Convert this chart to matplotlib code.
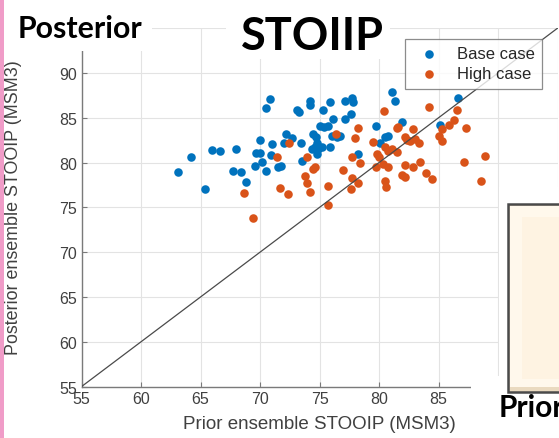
import matplotlib
matplotlib.use('Agg')
import matplotlib.pyplot as plt
from matplotlib.patches import Rectangle

# ---------------- data ----------------
base_prior = [63.13, 64.20, 65.42, 65.94, 66.68, 67.98, 67.77, 68.40, 68.84, 69.58,
              70.02, 69.66, 69.96, 70.21, 70.52, 70.90, 71.03, 70.48, 70.84, 71.54,
              72.16, 72.02, 72.73, 73.15, 73.28, 73.45, 73.50, 74.20, 74.16, 75.32,
              75.88, 77.14, 77.71, 77.84, 77.14, 77.65, 76.16, 81.07, 81.37, 79.75,
              75.04, 75.38, 75.74, 76.03, 76.45, 76.72, 74.48, 74.71, 74.76, 74.62,
              74.34, 74.90, 75.18, 74.76, 75.88, 71.76, 78.26, 80.50, 80.78, 80.08,
              81.96, 86.61, 85.13]
base_post = [78.90, 80.68, 77.09, 81.46, 81.26, 81.52, 79.06, 78.92, 77.80, 79.62,
             82.52, 81.10, 81.10, 80.03, 79.06, 80.85, 82.08, 86.09, 87.10, 79.56,
             83.19, 82.19, 82.80, 85.90, 85.61, 82.15, 80.18, 86.91, 86.48, 85.87,
             86.73, 86.91, 87.21, 86.73, 84.87, 85.37, 84.87, 87.85, 86.82, 84.12,
             84.12, 84.01, 84.12, 82.94, 82.89, 82.94, 83.19, 82.82, 82.15, 81.71,
             81.52, 81.52, 81.77, 80.96, 81.71, 79.62, 80.96, 82.82, 83.00, 82.15,
             84.50, 87.21, 84.23]

high_prior = [68.68, 69.44, 71.43, 72.46, 71.72, 72.39, 73.78, 73.92, 73.97, 74.23,
              80.45, 78.26, 77.98, 76.39, 74.62, 74.48, 75.74, 75.74, 76.95, 77.71,
              78.40, 77.71, 78.26, 77.62, 79.52, 79.86, 80.03, 79.77, 80.50, 80.78,
              81.07, 80.36, 80.78, 80.50, 80.59, 81.62, 82.18, 82.18, 81.91, 82.18,
              84.23, 86.53, 81.54, 82.83, 82.33, 82.61, 83.03, 83.39, 85.27, 85.91,
              86.30, 85.07, 85.27, 87.29, 81.49, 82.88, 83.45, 83.92, 84.43, 87.14,
              88.91, 88.57]
high_post = [76.58, 73.82, 80.66, 82.15, 77.22, 76.50, 78.50, 77.69, 80.66, 76.69,
             85.81, 83.81, 82.80, 83.19, 79.47, 79.23, 77.42, 75.32, 79.17, 80.59,
             79.99, 78.25, 77.69, 77.05, 82.27, 80.96, 80.59, 79.51, 81.71, 81.33,
             81.52, 79.84, 79.48, 77.98, 77.31, 84.01, 82.82, 79.73, 78.65, 78.36,
             86.17, 85.87, 83.86, 83.75, 82.57, 82.44, 82.63, 82.15, 83.75, 84.23,
             84.75, 83.00, 82.44, 83.83, 81.15, 79.47, 80.03, 78.81, 78.17, 80.03,
             80.77, 77.98]

ref_line = [55, 95]
ticks = [55, 60, 65, 70, 75, 80, 85, 90, 95]
xtick_labels = ['55', '60', '65', '70', '75', '80', '85', '', '']
ytick_labels = ['55', '60', '65', '70', '75', '80', '85', '90', '']
series_labels = ['Base case', 'High case']

# ---------------- figure ----------------
W, H = 559, 439
fig = plt.figure(figsize=(W / 100, H / 100), dpi=100)
fig.patch.set_facecolor('white')


def box(x0, y0, x1, y1):
    """pixel box (top-left origin) -> figure fraction rect"""
    return (x0 / W, 1 - y1 / H), (x1 - x0) / W, (y1 - y0) / H


ax_left, ax_right, ax_top, ax_bot = 81.5, 557.5, 29.2, 387.6
ax = fig.add_axes([ax_left / W, 1 - ax_bot / H, (ax_right - ax_left) / W, (ax_bot - ax_top) / H])

ax.set_xlim(55, 95)
ax.set_ylim(55, 95)
ax.set_xticks(ticks)
ax.set_yticks(ticks)
ax.set_xticklabels(xtick_labels)
ax.set_yticklabels(ytick_labels)
ax.grid(True, color='#e3e3e3', lw=0.8)
ax.set_axisbelow(True)

ax.scatter(base_prior, base_post, s=38, color='#0072BD', label=series_labels[0], zorder=2, linewidths=0)
ax.scatter(high_prior, high_post, s=38, color='#D95319', label=series_labels[1], zorder=2.1, linewidths=0)
ax.plot(ref_line, ref_line, color='#4a4a4a', lw=0.9, zorder=3)

for s in ['top', 'right']:
    ax.spines[s].set_visible(False)
for s in ['left', 'bottom']:
    ax.spines[s].set_color('#7a7a7a')
    ax.spines[s].set_linewidth(1.0)

ax.tick_params(direction='in', length=3.5, width=0.8, color='#7a7a7a',
               labelsize=11.5, labelcolor='#404040', pad=3.5)
for lab in ax.get_xticklabels() + ax.get_yticklabels():
    lab.set_fontfamily('Liberation Sans')

leg = ax.legend(loc='upper right', bbox_to_anchor=(0.9675, 0.970), borderaxespad=0,
                prop={'family': 'Liberation Sans', 'size': 12}, frameon=True, fancybox=False,
                handlelength=2.0, handletextpad=0.65, borderpad=0.45, labelspacing=0.3,
                scatterpoints=1)
leg.get_frame().set_edgecolor('#707070')
leg.get_frame().set_linewidth(0.9)
leg.set_zorder(5)
for t in leg.get_texts():
    t.set_color('#262626')

# axis labels
fig.text(319 / W, 1 - 425 / H, 'Prior ensemble STOOIP (MSM3)', ha='center', va='center',
         fontsize=13.5, family='Liberation Sans', color='#404040')
fig.text(14 / W, 1 - 208 / H, 'Posterior ensemble STOOIP (MSM3)', ha='center', va='center',
         rotation=90, fontsize=12.9, family='Liberation Sans', color='#404040')

# slide overlays
def add_rect(x0, y0, x1, y1, **kw):
    xy, w, h = box(x0, y0, x1, y1)
    r = Rectangle(xy, w, h, transform=fig.transFigure, **kw)
    fig.add_artist(r)
    return r

add_rect(4, 0, 152, 52, facecolor='white', edgecolor='none', zorder=10)
add_rect(226, 0, 390, 60, facecolor='white', edgecolor='none', zorder=10)
add_rect(499, 188, 562, 442, facecolor='white', edgecolor='none', zorder=10)
add_rect(471, 377, 562, 442, facecolor='white', edgecolor='none', zorder=10)

# pink bar at left
add_rect(0, 0, 3.5, 439, facecolor='#F09CC8', edgecolor='none', zorder=11)

# yellow bevelled box
add_rect(508, 205, 565, 393, facecolor='#EADAC0', edgecolor='#4a4a4a', linewidth=1.8, zorder=12)
add_rect(510, 207, 565, 388, facecolor='#FFF8EC', edgecolor='none', zorder=12.1)
add_rect(522, 218, 565, 380, facecolor='#FEF3E2', edgecolor='none', zorder=12.2)

# slide titles
fig.text(18 / W, 1 - 37.5 / H, 'Posterior', ha='left', va='baseline', fontsize=21.8,
         family='Lato', weight='bold', color='black', zorder=13)
fig.text(312.5 / W, 1 - 50 / H, 'STOIIP', ha='center', va='baseline', fontsize=32.5,
         family='Lato', weight='bold', color='black', zorder=13)
fig.text(499 / W, 1 - 417 / H, 'Prior', ha='left', va='baseline', fontsize=21.5,
         family='Lato', weight='bold', color='black', zorder=13)

fig.savefig('out.png', dpi=100)
